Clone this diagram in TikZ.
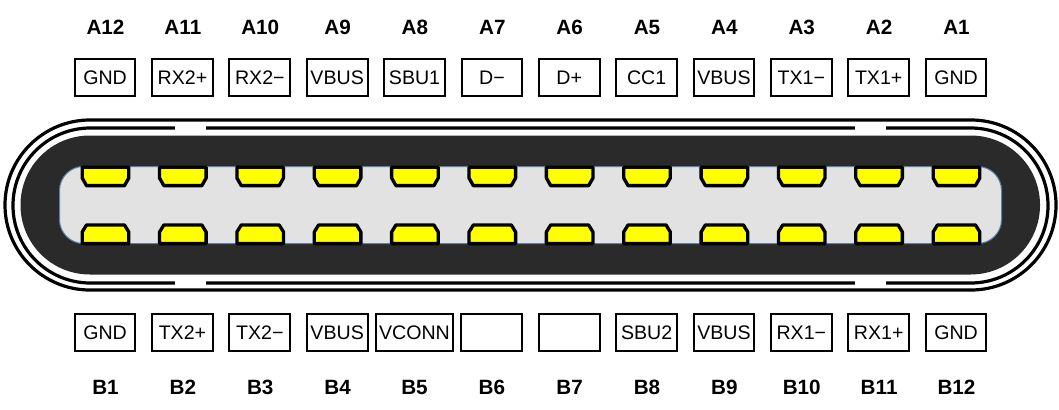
\documentclass[tikz,border=0pt]{standalone}
\usepackage{fontspec}
\setmainfont{Liberation Sans}
\definecolor{shelldark}{HTML}{2A2A2A}
\definecolor{cavitygrey}{HTML}{E2E2E2}
\definecolor{cavityedge}{HTML}{5B7FA6}
\definecolor{pinyellow}{HTML}{FFFF00}
\tikzset{
  pinname/.style={font=\bfseries\fontsize{15.5}{15.5}\selectfont},
  sigbox/.style={draw=black,line width=1.5pt,fill=white,inner sep=0pt,minimum width=45.5pt,minimum height=28pt,
    text height=10.4pt,text depth=0pt,font=\fontsize{14.7}{14.7}\selectfont},
  sigwide/.style={sigbox,minimum width=57.5pt},
  pin/.style={draw=black,line width=2.5pt,fill=pinyellow,line join=round},
}
\begin{document}
\begin{tikzpicture}[x=0.75pt,y=0.75pt,yscale=-1,xscale=1]
\useasboundingbox (0,0) rectangle (1059,410);

% shell
\draw [line width=2.4pt,rounded corners=63.75pt] (5,120) rectangle (1056,290);
\draw [line width=2.4pt,rounded corners=58pt] (13,128) rectangle (1048,283);
\foreach \gapx in {190.5,870.5} {
  \fill [white] (\gapx-15.5,125) rectangle (\gapx+15.5,131);
  \fill [white] (\gapx-15.5,280) rectangle (\gapx+15.5,286);
}

% body and cavity
\fill [shelldark,rounded corners=52pt] (20.5,135.5) rectangle (1040,274.5);
\draw [cavityedge,fill=cavitygrey,line width=0.75pt,rounded corners=18pt] (59.5,166.5) rectangle (1001.5,243.5);

% top row
\foreach \i/\lab/\sig in {0/A12/GND,1/A11/RX2+,2/A10/RX2\textminus,3/A9/VBUS,4/A8/SBU1,5/A7/D\textminus,
    6/A6/D+,7/A5/CC1,8/A4/VBUS,9/A3/TX1\textminus,10/A2/TX1+,11/A1/GND} {
  \pgfmathsetmacro{\px}{105.5+77.36*\i}
  \draw [pin] (\px-23.3,167.2) -- (\px+23.3,167.2) -- (\px+23.3,178) -- (\px+19,185.6) -- (\px-19,185.6) -- (\px-23.3,178) -- cycle;
  \node [pinname] (name\lab) at (\px,27) {\lab};
  \node [sigbox] (box\lab) at (\px-0.4,77.5) {\sig};
}

% bottom row
\foreach \i/\lab/\sig in {0/B1/GND,1/B2/TX2+,2/B3/TX2\textminus,3/B4/VBUS,6/B7/{},7/B8/SBU2,
    8/B9/VBUS,9/B10/RX1\textminus,10/B11/RX1+,11/B12/GND} {
  \pgfmathsetmacro{\px}{105.5+77.36*\i}
  \node [pinname] (name\lab) at (\px,387.5) {\lab};
  \node [sigbox] (box\lab) at (\px-0.4,332.7) {\sig};
}
\foreach \i in {0,...,11} {
  \pgfmathsetmacro{\px}{105.5+77.36*\i}
  \draw [pin] (\px-23.3,243.6) -- (\px+23.3,243.6) -- (\px+23.3,232) -- (\px+19,225) -- (\px-19,225) -- (\px-23.3,232) -- cycle;
}
\node [pinname] (nameB5) at (414.5,387.5) {B5};
\node [sigwide] (boxB5) at (414.5,332.7) {VCONN};
\node [pinname] (nameB6) at (491.8,387.5) {B6};
\node [sigbox] (boxB6) at (491.7,332.7) {};

\end{tikzpicture}
\end{document}
